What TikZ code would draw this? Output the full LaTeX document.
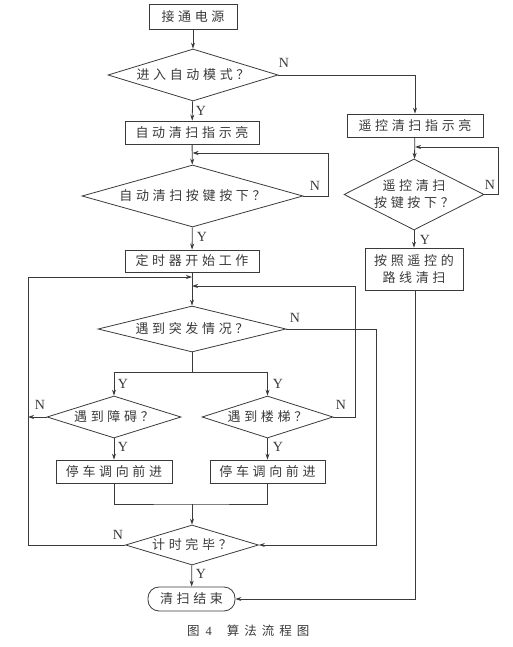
\documentclass[tikz,border=0pt]{standalone}
\usepackage{fontspec}
\setmainfont{Liberation Serif}
\newfontfamily\cjk[LetterSpace=28]{Noto Sans CJK SC}
\newfontfamily\cjkcap[LetterSpace=40]{Noto Sans CJK SC}
\newfontfamily\cjkplain{Noto Sans CJK SC}
\usetikzlibrary{shapes.geometric,arrows.meta}
\definecolor{ink}{HTML}{3A3A3A}
\begin{document}
\begin{tikzpicture}[x=1pt,y=-1pt,
  every node/.style={text=ink},
  base/.style={draw=ink,line width=0.8pt,inner sep=0pt,font=\cjk\fontsize{13}{17}\selectfont,align=center},
  proc/.style={base,rectangle},
  term/.style={base,rectangle,rounded corners=11pt},
  dec/.style={base,diamond},
  yn/.style={font=\fontsize{14}{14}\selectfont,inner sep=0pt,text=ink},
  conn/.style={draw=ink,line width=0.8pt},
  arr/.style={conn,-{Stealth[length=6pt,width=4pt]}}]
\useasboundingbox (0,0) rectangle (512,647);
% left column
\node[proc,minimum width=88,minimum height=25] (start) at (193,17) {接通电源};
\node[dec,minimum width=170,minimum height=52,aspect=3.3] (d1) at (193,75) {进入自动模式？};
\node[proc,minimum width=134,minimum height=23] (b2) at (192,132.5) {自动清扫指示亮};
\node[dec,minimum width=221,minimum height=62,aspect=3.6] (d2) at (192.5,196) {自动清扫按键按下？};
\node[proc,minimum width=134,minimum height=22] (b3) at (192,261) {定时器开始工作};
\node[dec,minimum width=188,minimum height=46,aspect=4] (d3) at (192,329) {遇到突发情况？};
\node[dec,minimum width=134,minimum height=42,aspect=3.2] (d4) at (114,417) {遇到障碍？};
\node[dec,minimum width=131,minimum height=42,aspect=3.2] (d5) at (267.5,417) {遇到楼梯？};
\node[proc,minimum width=116,minimum height=23] (b4) at (114,471.5) {停车调向前进};
\node[proc,minimum width=115,minimum height=23] (b5) at (267.5,471.5) {停车调向前进};
\node[dec,minimum width=133,minimum height=40,aspect=3.3] (d6) at (192,545) {计时完毕？};
\node[term,minimum width=87,minimum height=24] (end) at (191.5,599) {清扫结束};
% right column
\node[proc,minimum width=136,minimum height=23] (r1) at (415,125.5) {遥控清扫指示亮};
\node[dec,minimum width=140,minimum height=71,aspect=2] (r2) at (414,194.5) {遥控清扫\\按键按下？};
\node[proc,minimum width=98,minimum height=42] (r3) at (414,269) {按照遥控的\\路线清扫};
% caption
\node[font=\fontsize{12.5}{14}\selectfont,inner sep=0pt,anchor=west] (cap) at (187,631) {{\cjkplain 图}\hspace{6pt}4\hspace{15pt}{\cjkcap 算法流程图}};
% helper coordinates
\coordinate (j2) at (192.5,153);
\coordinate (jl) at (192,277);
\coordinate (jr) at (192,286);
\coordinate (jt) at (192,504);
\coordinate (jr2) at (415,147);
% connectors
\draw[arr] (start) -- (d1);
\draw[arr] (d1) -- (b2);
\draw[arr] (d1.east) -| (r1.north);
\draw[arr] (b2) -- (d2);
\draw[arr] (d2.east) -- (328,196) |- (j2);
\draw[arr] (d2) -- (b3);
\draw[arr] (b3.south -| d3.north) -- (d3.north);
\draw[conn] (d3.south) -- (192,372);
\draw[arr] (192,372) -| (d4.north);
\draw[arr] (192,372) -| (d5.north);
\draw[arr] (d3.east) -- (376,329) |- (d6.east);
\draw[arr] (d4.west) -- (28,417);
\draw[arr] (d5.east) -- (355,417) |- (jr);
\draw[arr] (d4) -- (b4);
\draw[arr] (d5) -- (b5);
\draw[conn] (b4.south) |- (jt) -| (b5.south);
\draw[arr] (jt) -- (d6.north);
\draw[arr] (d6.west) -- (28,545) |- (jl);
\draw[arr] (d6) -- (end);
\draw[arr] (r1) -- (r2);
\draw[arr] (r2.east) -- (498,194.5) |- (jr2);
\draw[arr] (r2) -- (r3);
\draw[arr] (r3.south -| jr2) |- (end.east);
% labels
\node[yn] (l1) at (284,63) {N};
\node[yn] (l2) at (201,111) {Y};
\node[yn] (l3) at (315,186) {N};
\node[yn] (l4) at (202,237) {Y};
\node[yn] (l5) at (295,318) {N};
\node[yn] (l6) at (123,384) {Y};
\node[yn] (l7) at (278,384) {Y};
\node[yn] (l8) at (40,405) {N};
\node[yn] (l9) at (341,405) {N};
\node[yn] (l10) at (123,447) {Y};
\node[yn] (l11) at (278,447) {Y};
\node[yn] (l12) at (118,535) {N};
\node[yn] (l13) at (201,574) {Y};
\node[yn] (l14) at (490,185) {N};
\node[yn] (l15) at (425,240) {Y};
\end{tikzpicture}
\end{document}
